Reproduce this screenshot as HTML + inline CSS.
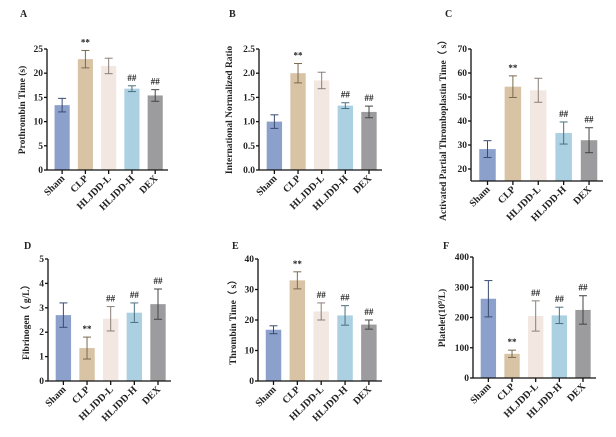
<!DOCTYPE html>
<html><head><meta charset="utf-8"><style>
html,body{margin:0;padding:0;background:#fff;}
svg text{font-family:"Liberation Serif",serif;font-weight:bold;fill:#222;}
</style></head><body>
<svg id="fig" width="616" height="432" viewBox="0 0 616 432" xmlns="http://www.w3.org/2000/svg"></svg>
<script>
const categories = ["Sham","CLP","HLJDD-L","HLJDD-H","DEX"];
const ptMeans = [13.4,22.9,21.5,16.8,15.4];
const ptErr = [1.4,1.8,1.6,0.6,1.2];
const inrMeans = [1.0,2.0,1.85,1.33,1.2];
const inrErr = [0.14,0.2,0.17,0.06,0.12];
const apttMeans = [28.3,54.3,52.8,35.0,32.0];
const apttErr = [3.5,4.5,5.0,4.6,5.2];
const fibMeans = [2.7,1.35,2.55,2.8,3.15];
const fibErr = [0.5,0.45,0.5,0.4,0.62];
const ttMeans = [16.8,33.0,22.8,21.5,18.5];
const ttErr = [1.3,2.8,2.8,3.2,1.5];
const pltMeans = [262,80,205,207,225];
const pltErr = [60,12,50,27,47];
const ptMarks = ["","**","","##","##"];
const inrMarks = ["","**","","##","##"];
const apttMarks = ["","**","","##","##"];
const fibMarks = ["","**","##","##","##"];
const ttMarks = ["","**","##","##","##"];
const pltMarks = ["","**","##","##","##"];
const ptTicks = [0,5,10,15,20,25];
const inrTicks = [0,0.5,1,1.5,2,2.5];
const apttTicks = [20,30,40,50,60,70];
const fibTicks = [0,1,2,3,4,5];
const ttTicks = [0,10,20,30,40];
const pltTicks = [0,100,200,300,400];

const fills = ["#8ca0cc","#d9c3a5","#f2e8e1","#aad0e1","#9c9c9e"];
const errCol = ["#3a4a70","#7a6a50","#8a7f78","#4a6f80","#444"];
const NS="http://www.w3.org/2000/svg";
const svg=document.getElementById('fig');
function mk(tag,attrs,parent){const e=document.createElementNS(NS,tag);for(const k in attrs)e.setAttribute(k,attrs[k]);(parent||svg).appendChild(e);return e;}

function panel(p){
  const g=mk('g',{});
  
  
  const yMin=p.yMin, yMax=p.ticks[p.ticks.length-1];
  const y=v=>p.tickBot-(v-p.ticks[0])/(yMax-p.ticks[0])*(p.tickBot-p.top);
  const pitch=(p.end-p.ax)/5.2, bw=pitch*0.65;
  const xc=i=>p.ax+pitch*(0.65+i);
  const base=y(yMin);
  const L=mk('text',{x:p.lx,y:p.ly,'font-size':10},g);L.textContent=p.letter;
  
  p.means.forEach((m,i)=>{
    const b=mk('rect',{x:xc(i)-bw/2,y:y(m),width:bw,height:base-y(m),fill:fills[i]},g);
    
    
    const e=p.err[i],c=errCol[i];
    const eg=mk('g',{stroke:c,'stroke-width':1},g);
    
    
    mk('line',{x1:xc(i),x2:xc(i),y1:y(m-e),y2:y(m+e)},eg);
    mk('line',{x1:xc(i)-4,x2:xc(i)+4,y1:y(m-e),y2:y(m-e)},eg);
    mk('line',{x1:xc(i)-4,x2:xc(i)+4,y1:y(m+e),y2:y(m+e)},eg);
    if(p.marks[i]){
      const t=mk('text',{x:xc(i),y:y(m+e)-5,'font-size':9,'text-anchor':'middle','font-weight':'normal',fill:'#666'},g);
      t.textContent=p.marks[i];
      
      
    }
  });
  const ag=mk('g',{stroke:'#111','stroke-width':1.3},g);
  
  mk('line',{x1:p.ax,x2:p.ax,y1:p.top,y2:base},ag);
  mk('line',{x1:p.ax,x2:p.end,y1:base,y2:base},ag);
  p.ticks.forEach(v=>{
    mk('line',{x1:p.ax-3,x2:p.ax,y1:y(v),y2:y(v)},ag);
    const t=mk('text',{x:p.ax-4,y:y(v)+3,'font-size':9.5,'text-anchor':'end'},g);
    t.textContent=p.fmt?p.fmt(v):v;
    
  });
  categories.forEach((c,i)=>{
    mk('line',{x1:xc(i),x2:xc(i),y1:base,y2:base+4},ag);
    const t=mk('text',{x:xc(i)+3,y:base+9,'font-size':10,'text-anchor':'end',transform:`rotate(-45 ${xc(i)+3} ${base+9})`},g);
    t.textContent=c;
    
  });
  const yt=mk('text',{x:p.tx,y:p.ty,'font-size':9.5,'text-anchor':'middle',transform:`rotate(-90 ${p.tx} ${p.ty})`},g);
  yt.innerHTML=p.title;
  
}
panel({name:'panel-a-prothrombin',letter:'A',lx:20,ly:17,ax:47,end:168,top:49,tickBot:170,yMin:0,ticks:ptTicks,means:ptMeans,err:ptErr,marks:ptMarks,tx:25,ty:110,title:'Prothrombin Time (s)'});
panel({name:'panel-b-inr',letter:'B',lx:229,ly:17,ax:259,end:382,top:49,tickBot:170,yMin:0,ticks:inrTicks,means:inrMeans,err:inrErr,marks:inrMarks,tx:232,ty:110,title:'International Normalized Ratio',fmt:v=>v.toFixed(1)});
panel({name:'panel-c-aptt',letter:'C',lx:445,ly:17,ax:471,end:603,top:49,tickBot:169,yMin:15,ticks:apttTicks,means:apttMeans,err:apttErr,marks:apttMarks,tx:446,ty:128,title:'Activated Partial Thromboplastin Time（ s）'});
panel({name:'panel-d-fibrinogen',letter:'D',lx:24,ly:249,ax:48,end:171,top:259,tickBot:381,yMin:0,ticks:fibTicks,means:fibMeans,err:fibErr,marks:fibMarks,tx:29,ty:320,title:'Fibrinogen（ g/L）'});
panel({name:'panel-e-thrombin',letter:'E',lx:232,ly:249,ax:258,end:382,top:259,tickBot:381,yMin:0,ticks:ttTicks,means:ttMeans,err:ttErr,marks:ttMarks,tx:236,ty:320,title:'Thrombin Time（ s）'});
panel({name:'panel-f-platelet',letter:'F',lx:443,ly:249,ax:473,end:596,top:257,tickBot:378,yMin:0,ticks:pltTicks,means:pltMeans,err:pltErr,marks:pltMarks,tx:445,ty:318,title:'Platelet(10<tspan dy="-3" font-size="6">9</tspan><tspan dy="3">/L)</tspan>'});
</script>
</body></html>
